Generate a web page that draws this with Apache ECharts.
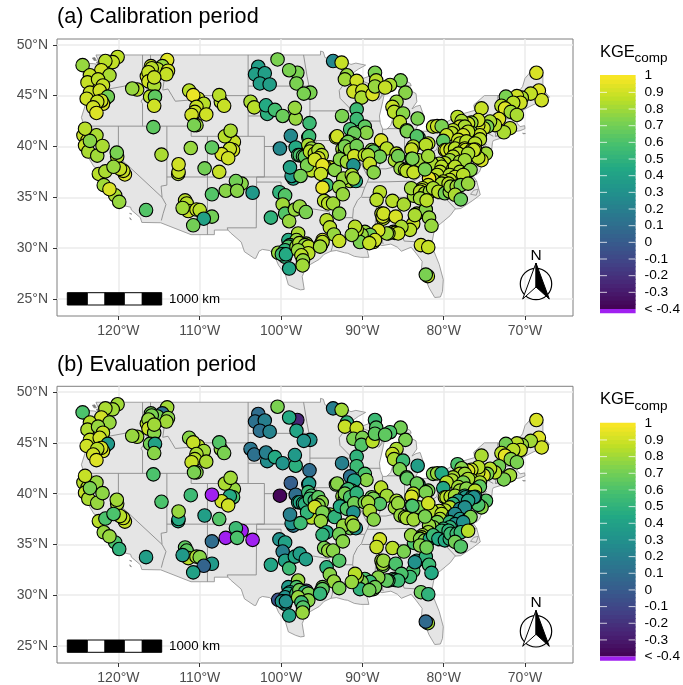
<!DOCTYPE html>
<html><head><meta charset="utf-8">
<style>html,body{margin:0;padding:0;background:#fff}#c{width:683px;height:685px}</style>
<script src="https://cdn.jsdelivr.net/npm/echarts@6/dist/echarts.min.js"></script>
</head><body><div id="c"></div>
<script>
// ---- tick labels / titles
const lonTicks=[-120,-110,-100,-90,-80,-70];
const latTicks=[25,30,35,40,45,50];
const kgeTicks=[-0.4,-0.3,-0.2,-0.1,0,0.1,0.2,0.3,0.4,0.5,0.6,0.7,0.8,0.9,1];
const panelTitles=['(a) Calibration period','(b) Evaluation period'];
const viridisStops=['#440154','#482475','#414487','#355f8d','#2a788e','#21918c','#22a884','#44bf70','#7ad151','#bddf26','#fde725'];

// ---- stations: [lon, lat, KGE calibration, KGE evaluation]
const northwestStations=[
[-124.4,48,.78,.6],[-120.1,48.8,.86,.8],[-120.7,48.3,.87,.8],[-121.6,48.4,.85,.82],[-122.1,47.5,.9,.9],[-123.5,47,.87,.85],[-121.1,47,.82,.78],[-123.8,46.3,.88,.83],[-122.5,46.6,.86,.78],[-121.9,46,.88,.87],[-122.2,45.2,.9,.9],[-122.4,44.9,.92,.85],[-121.7,44.6,.9,.92],[-123.5,45.3,.88,.88],[-122.3,45.5,.9,.9],[-121.3,44.9,.7,.35],[-121.9,44.2,.92,.92],[-122.1,44.5,.9,.92],[-123.9,44.7,.9,.9],[-122.6,44.4,.88,.85],[-123.1,43.85,.9,.9],[-122.7,43.3,.93,.93],
[-114,48.5,.93,.8],[-114.6,47.9,.78,.12],[-116,47.9,.88,.7],[-115.2,47.6,.85,.7],[-116.5,46.9,.9,.85],[-113.9,47.45,.9,.75],[-114.1,47.1,.88,.8],[-115.9,47.7,.85,.72],[-116.3,47.3,.88,.78],[-116.3,46.4,.9,.88],[-115.6,46,.82,.75],[-115.6,46.8,.88,.8],[-116.1,44.9,.85,.7],[-115.5,44.9,.65,.4],[-115.6,44,.9,.75],[-115.7,41.9,.65,.6],[-117.7,45.6,.85,.8],[-118.3,45.7,.78,.78]];
const rockiesStations=[
[-110.2,44.7,.88,.85],[-111.3,45.5,.85,.75],[-110.8,45.05,.96,.88],[-109.5,44.2,.85,.8],[-110.4,43.9,.88,.82],[-110.6,43.4,.88,.85],[-109.2,43.15,.9,.82],[-111,43.1,.9,.88],[-110.4,42.1,.8,.75],[-110.7,42.1,.72,.72],[-107.4,44.4,.85,.78],[-107.6,45.05,.85,.62],[-107,44,.88,.72],
[-105.8,40.45,.88,.78],[-106.9,41,.85,.82],[-106.2,41.55,.82,.8],[-105.9,39.65,.9,.6],[-106.3,39.75,.88,.45],[-107.3,39.25,.92,.9],[-106.5,38.85,.9,.9],[-108.5,39.9,.65,-.45],[-111.1,39.85,.78,.55],[-114.7,39.2,.82,.6],[-112.65,37.3,.82,.45],[-112.6,37.5,.88,.45],[-112.6,38.25,.9,.78],[-109.4,37.85,.7,.38],[-107.6,37.5,.88,.62]];
const southwestStations=[
[-104.85,36.35,.75,-.45],[-105.55,36.6,.7,.55],[-106.8,35.65,.75,-.45],[-105.4,35.65,.75,.6],[-108.5,35.3,.62,.1],[-103.5,35.45,.35,-.45],
[-111.8,34.7,.85,.65],[-111.6,34.4,.85,.65],[-111.4,33.65,.88,.85],[-110.4,33.8,.88,.82],[-110,33.75,.85,.75],[-112.1,33.95,.8,.35],[-108.5,33.1,.7,.35],[-109.5,32.9,.4,.05],[-110.8,32.25,.7,.4],
[-124.3,41.1,.88,.85],[-123.8,40.6,.9,.85],[-124.1,40.1,.88,.87],[-123.7,39.5,.82,.82],[-122.7,41.1,.82,.78],[-122.6,39.1,.8,.78],[-121.95,40.05,.82,.76],[-123.5,40.55,.75,.72],[-124.1,41.75,.85,.88],
[-120.15,39,.85,.82],[-120.2,39.4,.72,.8],[-122.4,37.3,.85,.85],[-121.6,37.55,.82,.6],[-119.2,37.25,.92,.88],[-119.4,37.6,.88,.88],[-119.8,37.8,.88,.85],[-120.6,38,.78,.6],[-121.8,36.2,.8,.78],[-120.4,35.2,.82,.6],[-121.1,35.8,.92,.78],[-119.9,34.55,.78,.5],[-116.6,33.75,.62,.38]];
const plainsStations=[
[-100.43,48.56,.72,.72],[-102.8,47.84,.38,.1],[-103.2,47.1,.38,.12],[-102,47.2,.38,.2],[-102.6,46.2,.38,.12],[-101.4,46.1,.38,.22],[-98,47.25,.72,-.25],[-99,47.5,.72,.45],[-98.1,46.2,.72,.42],[-96.4,45.3,.72,.32],[-97.2,45.2,.72,.32],
[-103.75,44.4,.82,.15],[-103.3,43.85,.85,.12],[-101.7,43.2,.48,.28],[-101.85,44.05,.45,.2],[-100.75,43.6,.58,.45],[-99.8,43,.68,.32],[-98.2,42.75,.78,.48],[-98.3,43.8,.78,.35],[-96.5,42.3,.55,.1],[-96.65,40.9,.5,.3],[-96.55,41,.55,.35],[-98.8,41.05,.25,.02],[-100.14,39.8,.25,-.38],[-98.2,39.9,.45,.1],[-97.9,39.15,.6,.45],[-97.7,39.15,.6,.42],[-97.3,39.05,.65,.45],[-97.07,39,.65,.48],[-96.65,40.15,.82,.55],[-96.25,39.8,.78,.6],[-96.45,39.5,.85,.55],[-95.85,39.3,.85,.55],[-95.4,39.65,.82,.65],[-95,39.15,.85,.75],[-95.4,38.85,.9,.75],[-96.25,37.65,.85,.85],[-96.8,38.15,.72,.52],[-95.85,38.7,.9,.9],[-94,37.95,.92,.8],[-94.6,38,.92,.78],[-94.9,38.15,.95,.72],[-93.4,37.7,.75,.5],[-95.1,37.3,.88,.78],
[-98.5,36.85,.4,.15],[-98.7,37.1,.35,.3],[-98.9,37.95,.4,.2],[-97.6,37.1,.7,.55],[-100.2,35.5,.5,.3],[-99.5,35.2,.62,.4],[-99.8,34.3,.8,.2],[-99.5,33.4,.62,.4],[-99,32.65,.78,.55],[-101.25,33,.5,.42],[-98.3,33.8,.78,.42],[-97.7,34.1,.78,.38],[-96.95,33.55,.72,.38],[-94.4,36.2,.55,.45],[-94.9,35.95,.95,.5]];
const texasStations=[
[-94.7,34.65,.85,.72],[-94.2,34.4,.85,.78],[-93.6,34.4,.8,.75],[-92.85,33.4,.75,.62],[-94.4,32.75,.85,.48],[-94,32.05,.85,.75],[-93.5,31.35,.78,.78],[-92.85,30.7,.88,.72],
[-96.9,30.45,.8,-.15],[-97.9,31.45,.82,.78],[-99.1,30.8,.45,.35],[-98.1,30.8,.78,.6],[-100.35,29.55,.78,-.05],[-98.9,30.3,.55,.35],[-99.1,30.15,.62,.42],[-99.5,29.8,.5,.3],[-99.7,29.4,.55,.35],[-99.5,29.15,.5,.35],[-99.9,29.4,.55,.35],[-99.4,29.4,.45,.3],[-98.1,30.15,.78,.55],[-97.75,30.5,.82,.7],[-97.05,30.3,.78,.5],[-97.3,29.65,.82,.6],[-96.65,30.15,.85,.72],[-97.9,29.8,.78,.78],[-96.65,29.5,.85,.75],[-97.5,29.3,.85,.55],[-97.3,28.8,.78,.62],[-97.35,28.3,.8,.78],[-99,28,.42,.4],[-94.9,30.8,.9,.72],[-95.1,30.3,.85,.7],[-95.1,30.4,.9,.7],[-94.9,30.6,.85,.65],[-95.2,30.15,.8,.52]];
const midwestStations=[
[-93.6,48.4,.25,.2],[-92.55,48.25,.88,.8],[-91.9,47,.78,.5],[-92.15,46.6,.8,.88],[-90.7,46.45,.9,.88],[-88.45,47.25,.72,.55],[-88.3,46.5,.85,.62],[-85.3,46.5,.72,.7],[-91.1,45.4,.9,.72],[-90,45.5,.88,.72],[-90.1,44.8,.82,.62],[-88.75,45.15,.92,.85],[-88.45,45.9,.78,.65],[-86.6,46.05,.82,.6],[-87.2,45.8,.88,.65],[-84.7,45.3,.75,.72],[-85.8,44.4,.78,.82],[-86.3,43.9,.88,.88],[-86.1,43.4,.85,.82],[-85,43.25,.75,.55],[-85.4,42.4,.85,.72],[-84.55,41.6,.72,.68],[-84.5,41.5,.72,.65],[-83.2,42.75,.72,.38],[-83.1,40.9,.55,.45],[-83.3,41,.62,.68],
[-90.7,43.65,.55,.5],[-92.5,43,.72,.2],[-90.7,42.7,.55,.55],[-89.7,41.95,.65,.6],[-89.5,41.35,.75,.75],[-91.5,41.7,.58,.12],[-91,41.3,.68,.42],[-93.25,40.9,.85,.68],[-93.1,41,.9,.75],[-91.95,40.3,.75,.6],[-91.3,40.3,.78,.65],[-91.75,40.45,.7,.55],[-92.45,39.75,.82,.78],[-92.15,39.5,.78,.75],[-92.15,40,.72,.72],[-91.5,39.15,.85,.6],[-91.05,39.65,.75,.62],[-91.5,39.65,.78,.6],[-90.7,40.05,.7,.5],[-92.75,38.75,.75,.45],[-91.9,38.5,.8,.62],[-91,39.05,.9,.7],[-91.1,38.15,.3,.3],[-91.5,36.6,.82,.7],[-90.8,36.6,.45,.3],[-92.35,36.85,.78,.78],[-91.3,37.2,.82,.82],[-91.1,36.85,.8,.78],[-92.85,36,.78,.7],[-92.4,35.3,.78,.75],
[-87.7,40.6,.92,.85],[-87,39.8,.85,.8],[-88.85,39.65,.75,.7],[-89.7,39.15,.85,.72],[-88.65,39.5,.65,.72],[-87.85,39,.7,.62],[-89.3,39.15,.82,.8],[-89.1,38.3,.88,.82],[-88.6,37.45,.75,.75],[-85.8,39.3,.85,.82],[-86,38.65,.82,.8],[-85.6,39.05,.7,.78],[-83.75,40,.85,.85],[-83.95,39.7,.88,.92],[-83.1,38.65,.8,.72],[-83.95,38.8,.72,.62],[-85.3,37.85,.78,.78],[-84.75,37.7,.85,.8],[-84.55,37.6,.85,.82],[-83.7,37.45,.88,.8]];
const southStations=[
[-87.85,35.5,.85,.9],[-88.25,34.75,.85,.88],[-86.3,34.65,.85,.85],[-84.9,34.3,.82,.72],[-83.65,35.15,.8,.6],[-84,35.9,.8,.78],[-87.65,33.4,.85,.8],[-87.45,32.9,.85,.7],[-87.5,33.1,.9,.8],[-87.4,33.4,.9,.78],[-85.9,33.1,.92,.6],[-83.5,33.25,.78,.42],[-83.3,33.4,.8,.4],[-83.75,32.4,.88,.6],[-84.15,31.8,.85,.55],[-85.2,32.1,.82,.6],[-86.2,31.6,.85,.6],[-86,31.5,.85,.55],[-85.6,31.45,.88,.55],[-86.8,31.45,.82,.6],[-87,31.45,.8,.65],[-88.05,31.75,.92,.75],[-89.5,31.45,.75,.6],[-89.7,31.6,.78,.6],[-89.05,31.3,.7,.55],[-90.1,31.3,.78,.72],[-90.3,30.6,.72,.5],[-88.65,30.6,.9,.72],[-88.45,30.8,.9,.7],[-89.15,30.5,.88,.7],[-90.7,31.8,.85,.8],[-90.9,32.1,.85,.85],[-91.3,31.3,.78,.78],[-82.8,30.3,.9,.68],[-81.9,30.1,.88,.5],[-81.95,27.25,.85,.8],[-82.2,27.4,.72,.08],[-82.2,33.8,.75,.5],[-81.8,33,.78,.55],[-81.5,32.2,.78,.45],[-83.55,33.25,.82,.3]];
const northeastStations=[
[-68.6,47.25,.92,.92],[-68.3,45.5,.93,.93],[-67.95,44.55,.9,.9],[-69.3,45.2,.87,.8],[-70.4,44.8,.82,.78],[-71,44.95,.9,.85],[-70.55,44.3,.9,.88],[-72.35,44.9,.72,.7],[-71.45,44.3,.85,.85],[-72.9,44,.85,.85],[-72.45,43.75,.93,.95],[-71.75,43.4,.8,.75],[-71,43.1,.82,.72],[-73.2,42.7,.92,.7],[-71.85,41.8,.85,.8],[-72.6,41.4,.82,.72],[-73.7,42.1,.85,.85],[-75.35,43.75,.88,.82],[-74.3,42.45,.82,.85],[-74.65,41.95,.72,.72],[-75.1,41.8,.88,.92],[-75.75,42.1,.9,.88],[-75.75,42.6,.88,.85],[-76.6,42.35,.78,.88],[-77,42.25,.88,.92],[-76.6,41.35,.75,.85],[-75.55,41.1,.88,.82],[-75.55,40.7,.85,.65],[-74.8,39.3,.8,.62],[-75.35,38.65,.92,.75],[-75.75,38.9,.85,.6],[-78.3,42.9,.85,.6],[-77.8,42.5,.82,.75],[-78,41.95,.9,.85],[-77.4,41.95,.82,.8],[-78.85,41.6,.85,.82],[-79,41.3,.85,.82],[-81.3,41.95,.85,.72],[-80.8,42,.88,.78],[-80.25,42,.72,.45],[-79.65,41.1,.88,.85],[-77.2,41.3,.9,.88],[-77,41.45,.85,.82],[-77.6,41.1,.9,.72]];
const appalachianStations=[
[-80.05,40.55,.65,.42],[-78.2,40.65,.88,.8],[-78,40.3,.85,.8],[-77.2,40.5,.85,.75],[-76.15,40.3,.85,.85],[-79.85,39.65,.92,.85],[-79.65,39.65,.9,.85],[-79.15,39.7,.88,.85],[-78.6,39.8,.85,.8],[-77.4,39.8,.9,.45],[-77.3,39.65,.88,.35],[-76.55,39.65,.9,.4],[-76.15,39.7,.92,.35],[-76.3,39.65,.88,.3],[-78.2,39.3,.85,.35],[-77,39.3,.82,.4],[-78.85,39,.85,.5],[-79.25,38.65,.8,.85],[-79.85,38.35,.85,.85],[-78,38.5,.8,.25],[-77.4,38.65,.8,.28],[-80.55,38.3,.82,.85],[-81.5,38.35,.82,.85],[-80.25,38,.85,.85],[-78.8,37.85,.85,.3],[-78.6,38,.85,.25],[-78,37.5,.82,.35],[-77.2,37.35,.85,.65],[-76.7,37.7,.75,.72],[-80.45,37.5,.85,.82],[-80.8,37.2,.85,.72],[-79.25,37.2,.82,.5],[-78.6,37,.88,.3],[-77.6,37.2,.85,.3],[-79.25,36.7,.85,.5],[-80.05,36.55,.85,.5],[-80.75,36.4,.88,.7],[-81.3,36.7,.85,.75],[-81.8,36.85,.95,.78],[-81.9,36.2,.88,.8],[-80.25,36.35,.82,.55],[-79.4,36.35,.85,.5],[-82.6,35.9,.85,.8],[-82.7,35.7,.88,.85],[-82.9,35.55,.85,.75],[-82.3,35.4,.82,.75],[-81.7,35.55,.8,.45],[-81.3,35.9,.82,.55],[-80.65,35.55,.85,.45],[-79.85,35.4,.7,.45],[-79.25,35.55,.78,.5],[-79.15,36.05,.8,.55],[-78.4,36.05,.8,.55],[-77.9,36.2,.72,.55],[-77,36.35,.78,.85],[-78.6,35.25,.82,.7],[-77.9,34.8,.68,.62],[-82.9,34.9,.8,.75],[-82.1,34.7,.85,.7],[-81.9,40.3,.85,.72],[-82.2,40.15,.85,.72],[-81.9,39.05,.8,.9],[-83.85,38.8,.72,.6],[-82.3,37.75,.72,.72]];
const stations=[...northwestStations,...rockiesStations,...southwestStations,...plainsStations,...texasStations,...midwestStations,...southStations,...northeastStations,...appalachianStations];

// ---- map geometry (lon, lat)
const usOutline=[[-124.7,48.4],[-123.9,48.17],[-123.1,48.15],[-122.75,48.1],[-122.45,47.3],[-122.3,47.9],[-122.5,48.5],[-122.76,49],[-95.15,49],[-95.15,49.38],[-94.8,49.3],[-94.6,48.75],[-93.8,48.55],[-92.95,48.62],[-92,48.3],[-91.4,48.07],[-90.8,48.2],[-89.6,48],[-90.5,47.6],[-92,46.75],[-91,46.9],[-90.4,46.55],[-89,46.95],[-88.4,47.35],[-87.9,47.47],[-88.4,46.95],[-87.4,46.5],[-86.5,46.5],[-85,46.75],[-84.6,46.45],[-84.1,46.2],[-84,45.95],[-84.8,45.95],[-85.5,46.1],[-86.4,45.8],[-87,45.7],[-87.6,45.1],[-88,44.55],[-87.3,45.2],[-87.5,44.4],[-87.9,43],[-87.8,42.3],[-87.5,41.7],[-87,41.7],[-86.5,42.1],[-86.2,43],[-86.5,43.7],[-86.2,44.7],[-85.6,45],[-85,45.7],[-84.7,45.78],[-83.4,45.2],[-83.3,44.4],[-83.9,43.7],[-83.4,43.95],[-82.9,44.05],[-82.45,43],[-82.5,42.6],[-83.1,42.2],[-83.4,41.75],[-82.7,41.5],[-81.7,41.5],[-80.5,42],[-79,42.7],[-78.9,43],[-79.05,43.27],[-77.5,43.25],[-76.2,43.55],[-76.3,44.1],[-75,45],[-71.5,45],[-71.4,45.25],[-70.85,45.3],[-70.3,45.9],[-70,46.7],[-69.2,47.45],[-68.3,47.35],[-67.8,47.07],[-67.8,45.7],[-67.45,45.3],[-67,44.85],[-68,44.4],[-69,44.1],[-70.2,43.6],[-70.7,43.05],[-70.8,42.6],[-71,42.3],[-70.6,41.95],[-70.05,42.05],[-70,41.75],[-70.6,41.55],[-71.4,41.45],[-72.9,41.25],[-73.65,41],[-72,41.05],[-73.9,40.58],[-74,40.4],[-74.1,39.7],[-74.9,38.95],[-75.5,39.5],[-75.1,38.6],[-75.6,37.5],[-76,37.2],[-75.9,38.2],[-76.5,39.2],[-76.4,38.2],[-76.3,37],[-75.95,36.6],[-75.5,35.25],[-76.5,34.65],[-77.9,33.9],[-78.6,33.85],[-79.2,33.2],[-80.4,32.4],[-81.1,32],[-81.4,30.7],[-81.25,29.8],[-80.55,28.4],[-80.05,26.9],[-80.15,25.75],[-80.4,25.2],[-81.1,25.15],[-81.8,26.1],[-82.2,26.9],[-82.75,27.8],[-82.65,28.7],[-83.4,29.5],[-84,30.1],[-85.2,29.7],[-85.7,30.1],[-86.5,30.4],[-87.6,30.25],[-88,30.4],[-88.9,30.4],[-89.6,30.2],[-89.4,29.8],[-89.2,29.1],[-90.2,29.1],[-91,29.2],[-91.8,29.5],[-92.2,29.55],[-93.2,29.77],[-93.85,29.7],[-94.7,29.4],[-95.3,28.9],[-96.4,28.4],[-97.1,27.8],[-97.4,27.2],[-97.15,25.95],[-97.6,25.9],[-98.2,26.05],[-99.1,26.4],[-99.5,27.5],[-100.3,28.3],[-100.8,29.25],[-101.4,29.77],[-102.3,29.88],[-102.7,29.7],[-103.1,29],[-103.3,29],[-104.5,29.65],[-104.9,30.6],[-106.2,31.5],[-106.53,31.78],[-108.2,31.78],[-108.2,31.33],[-111.07,31.33],[-114.8,32.5],[-117.12,32.53],[-117.3,33],[-118.4,33.75],[-118.5,34.03],[-119.2,34.15],[-120.5,34.45],[-120.65,35.15],[-121.9,36.6],[-122,36.95],[-122.5,37.5],[-122.5,37.8],[-123,38],[-123.75,39],[-123.8,39.8],[-124.35,40.3],[-124.1,41],[-124.2,42],[-124.55,42.85],[-124.1,44],[-123.95,46.2],[-124.1,46.8],[-124.7,48.4]];
const stateLines=[
[[-124,46.25],[-123.2,46.15],[-122.8,45.65],[-121.2,45.65],[-119.3,45.93],[-119,46],[-116.92,46]],
[[-117.03,49],[-117.04,46.4],[-116.92,46],[-116.46,45.6],[-116.85,44.9],[-117.2,44.45],[-117.03,44.2],[-117.03,42]],
[[-124.2,42],[-111.05,42]],
[[-120,42],[-120,39],[-114.63,35],[-114.15,34.3],[-114.5,33.4],[-114.72,32.72]],
[[-114.04,42],[-114.04,36.2],[-114.75,36.1],[-114.63,35]],
[[-116.05,49],[-116.05,48],[-114.7,46.7],[-114.35,46.65],[-114.55,45.55],[-113.9,45.65],[-113.45,45.05],[-113,44.45],[-111.5,44.55],[-111.05,44.48]],
[[-111.05,45],[-111.05,41],[-104.05,41]],
[[-111.05,45],[-104.05,45]],
[[-104.05,49],[-104.05,41]],
[[-114.04,37],[-102.05,37]],
[[-109.05,41],[-109.05,31.33]],
[[-104.05,41],[-102.05,41],[-102.05,37]],
[[-103,37],[-103.05,32],[-106.62,32],[-106.53,31.78]],
[[-103,36.5],[-100,36.5],[-100,34.56],[-99.2,34.3],[-98.1,34.13],[-97.2,33.8],[-96,33.85],[-94.5,33.65],[-94.04,33.55],[-94.04,31.99],[-93.55,31.2],[-93.7,30.1],[-93.85,29.7]],
[[-103,37],[-94.62,37],[-94.43,35.4],[-94.5,33.65]],
[[-102.05,40],[-95.3,40],[-94.62,39.1],[-94.62,36.5]],
[[-104.05,43],[-98.5,43],[-97.9,42.8],[-96.45,42.5],[-96.1,41.7],[-95.85,40.7],[-95.3,40]],
[[-104.05,45.94],[-96.56,45.94],[-96.45,45.3],[-96.45,42.5]],
[[-97.23,49],[-96.8,46.9],[-96.56,45.94]],
[[-96.45,43.5],[-91.22,43.5]],
[[-92,46.7],[-92.3,46.1],[-92.85,45.5],[-92.75,44.75],[-91.22,43.5],[-91.1,42.7],[-90.64,42.5],[-90.15,41.8],[-91.1,41.2],[-91,40.7],[-91.4,40.4],[-91.5,40],[-90.7,39],[-90.15,38.8],[-90.2,38.4],[-89.5,37.3],[-89.15,37],[-89.4,36.5],[-89.7,36],[-90.1,35.1],[-90.6,34.7],[-91.1,33.9],[-91.2,33],[-90.9,32.3],[-91.6,31],[-89.75,31],[-89.8,30.6],[-89.6,30.2]],
[[-95.77,40.58],[-91.7,40.6],[-91.4,40.4]],
[[-90.64,42.5],[-87.8,42.5]],
[[-90.4,46.55],[-89.1,46.15],[-88.1,45.9],[-87.8,45.35],[-87.6,45.1]],
[[-87.53,41.7],[-87.53,39.35],[-87.6,38.7],[-88.05,37.8]],
[[-89.15,37],[-88.45,37.1],[-88.05,37.8],[-87.1,37.8],[-86,38],[-85.4,38.7],[-84.82,39.1],[-84.2,38.8],[-83,38.7],[-82.6,38.4],[-81.75,39.2],[-80.87,39.7],[-80.52,40.64]],
[[-84.82,39.1],[-84.8,41.76]],
[[-87,41.76],[-83.45,41.73]],
[[-80.52,39.72],[-80.52,42]],
[[-79.76,42.27],[-79.76,42],[-75.35,42],[-75.07,41.6],[-74.7,41.36],[-75.1,40.9],[-75.2,40.6],[-74.75,40.2],[-75.45,39.8]],
[[-80.52,39.72],[-75.79,39.72],[-75.45,39.8]],
[[-75.79,39.72],[-75.7,38.46],[-75.05,38.45]],
[[-74.7,41.36],[-73.9,41]],
[[-73.65,41],[-73.5,42.05],[-73.27,42.75],[-73.35,45]],
[[-73.5,42.05],[-71.38,42.02],[-71.12,41.5]],
[[-73.27,42.75],[-71.3,42.7],[-70.82,42.87]],
[[-71.8,42.02],[-71.85,41.32]],
[[-72.46,42.73],[-72.3,43.6],[-72.05,44.1],[-71.5,45]],
[[-71.08,45.3],[-70.98,43.4],[-70.7,43.05]],
[[-79.48,39.72],[-79.48,39.2],[-78.4,39.6],[-77.7,39.3],[-77.1,38.9],[-77.25,38.35],[-76.3,38]],
[[-81.97,37.54],[-81.7,37.2],[-80.3,37.5],[-79.9,38.2],[-78.9,38.8],[-78.35,39.4],[-77.8,39.15]],
[[-82.6,38.4],[-81.97,37.54],[-83.67,36.6]],
[[-75.9,36.55],[-81.68,36.59]],
[[-83.67,36.6],[-88.05,36.5],[-89.4,36.5]],
[[-81.68,36.59],[-82,36.1],[-83.1,35.75],[-84.3,35]],
[[-90.1,35],[-83.1,35],[-82.3,35.2],[-81,35.15],[-80.8,34.82],[-79.67,34.8],[-78.55,33.86]],
[[-83.1,35],[-83.35,34.7],[-81.9,33.4],[-81.4,33],[-81.1,32.1]],
[[-85.6,34.98],[-85.18,32.87],[-85,32.3],[-85,31]],
[[-87.45,30.4],[-87.6,31],[-85,31],[-84.86,30.7],[-82.2,30.57],[-82.05,30.35],[-82,30.75],[-81.45,30.72]],
[[-88.2,35],[-88.47,31.9],[-88.4,30.3]],
[[-94.62,36.5],[-90.15,36.5],[-90.4,36],[-89.7,36]],
[[-94.04,33],[-91.2,33]]];
const smallIslands=[
[[-120.4,34],[-119.9,34.05],[-119.6,34],[-119.9,33.95],[-120.4,34]],
[[-118.6,33.45],[-118.35,33.35],[-118.6,33.4],[-118.6,33.45]],
[[-118.6,33],[-118.4,32.8],[-118.55,32.85],[-118.6,33]],
[[-123.2,48.7],[-122.9,48.75],[-122.7,48.45],[-123,48.45],[-123.2,48.7]],
[[-122.7,48.3],[-122.45,48.35],[-122.5,47.95],[-122.7,48.3]],
[[-70.3,41.3],[-69.95,41.27],[-70.2,41.25],[-70.3,41.3]],
[[-76.7,35.3],[-76,35.2],[-75.75,35.8],[-76.3,35.7],[-76.7,35.3]]];

// ---- helpers
const F='"Liberation Sans",Arial,sans-serif';
function viridis(v){
  if(v<-0.4) return '#a020f0';
  const t=Math.min(1,(v+0.4)/1.4)*(viridisStops.length-1),i=Math.min(viridisStops.length-2,Math.floor(t)),f=t-i;
  const h=s=>[1,3,5].map(k=>parseInt(s.substr(k,2),16));
  const a=h(viridisStops[i]),b=h(viridisStops[i+1]);
  return 'rgb('+a.map((x,k)=>Math.round(x+(b[k]-x)*f)).join(',')+')';
}
const plotLeft=57,plotRight=110,plotH=277,panelTops=[39,386.3];
const barTops=[75.7,423.3],barH=233.3,barLeft=600,barW=36;
const grids=[],xAxes=[],yAxes=[],series=[],gfx=[];

[0,1].forEach(p=>{
  const dy=panelTops[p]-panelTops[0];
  const m=2*p,g=2*p+1;
  grids.push({left:plotLeft,right:plotRight,top:panelTops[p],height:plotH,show:true,borderColor:'#7f7f7f',borderWidth:1,backgroundColor:'#fff',containLabel:false});
  xAxes.push({gridIndex:m,type:'value',min:-127.55,max:-64.1,axisLine:{show:false},
    axisTick:{length:4,lineStyle:{color:'#333',width:1},customValues:lonTicks},
    axisLabel:{customValues:lonTicks,formatter:v=>Math.abs(v)+'°W',fontFamily:F,fontSize:14,color:'#4d4d4d',margin:8},
    splitLine:{show:true,lineStyle:{color:'#ebebeb',width:1.5}}});
  yAxes.push({gridIndex:m,type:'value',min:23.33,max:50.57,axisLine:{show:false},
    axisTick:{length:4,lineStyle:{color:'#333',width:1},customValues:latTicks},
    axisLabel:{customValues:latTicks,formatter:v=>v+'°N',fontFamily:F,fontSize:14,color:'#4d4d4d',margin:9},
    splitLine:{show:true,lineStyle:{color:'#ebebeb',width:1.5}}});
  const polys=[usOutline,...smallIslands,...stateLines];
  const closedCount=1+smallIslands.length;
  series.push({type:'custom',xAxisIndex:m,yAxisIndex:m,silent:true,z:2,coordinateSystem:'cartesian2d',
    data:polys.map((_,i)=>[i]),
    renderItem:(params,api)=>{
      const i=api.value(0),pts=polys[i].map(c=>api.coord(c));
      return i<closedCount
        ?{type:'polygon',shape:{points:pts},style:{fill:(i>=4&&i<=5)?'#777':'#e5e5e5',stroke:'#8a8a8a',lineWidth:0.8}}
        :{type:'polyline',shape:{points:pts},style:{fill:null,stroke:'#8a8a8a',lineWidth:0.9}};
    }});
  series.push({type:'scatter',xAxisIndex:m,yAxisIndex:m,silent:true,z:3,symbolSize:13.5,
    data:stations.map(s=>[s[0],s[1],s[2+p]]),
    itemStyle:{color:o=>viridis(o.value[2]),borderColor:'#000',borderWidth:1.1,opacity:1}});

  // colour bar
  grids.push({left:barLeft,width:barW,top:barTops[p],height:barH,show:false});
  xAxes.push({gridIndex:g,type:'value',min:0,max:1,show:false});
  yAxes.push({gridIndex:g,type:'value',min:-0.4,max:1,interval:0.1,position:'right',
    axisLine:{show:false},axisTick:{show:false},splitLine:{show:false},
    axisLabel:{fontFamily:F,fontSize:13.7,color:'#000',margin:9,
      formatter:v=>{const r=+v.toFixed(1);return r===-0.4?'< -0.4':String(r);}}});
  const steps=[];
  for(let i=0;i<56;i++) steps.push([-0.4+i*0.025,-0.4+(i+1)*0.025]);
  series.push({type:'custom',xAxisIndex:g,yAxisIndex:g,silent:true,clip:false,z:2,
    data:steps,
    renderItem:(params,api)=>{
      const a=api.value(0),b=api.value(1);
      const p0=api.coord([0,b+(b>=0.999?0.004:0.006)]),p1=api.coord([1,a]);
      return {type:'rect',shape:{x:p0[0],y:p0[1],width:p1[0]-p0[0],height:p1[1]-p0[1]},style:{fill:viridis((a+b)/2)}};
    }});
  series.push({type:'custom',xAxisIndex:g,yAxisIndex:g,silent:true,clip:false,z:2,
    data:[[-0.425,-0.4]],
    renderItem:(params,api)=>{
      const p0=api.coord([0,-0.4]),p1=api.coord([1,-0.425]);
      return {type:'rect',shape:{x:p0[0],y:p0[1],width:p1[0]-p0[0],height:p1[1]-p0[1]},style:{fill:'#a020f0'}};
    }});
  series.push({type:'custom',xAxisIndex:g,yAxisIndex:g,silent:true,clip:false,z:3,
    data:kgeTicks.slice(1,-1).map(v=>[v]),
    renderItem:(params,api)=>{
      const v=api.value(0),a=api.coord([0,v]),b=api.coord([1,v]);
      const st={stroke:'rgba(255,255,255,0.75)',lineWidth:1};
      return {type:'group',children:[
        {type:'line',shape:{x1:a[0],y1:a[1],x2:a[0]+7,y2:a[1]},style:st},
        {type:'line',shape:{x1:b[0]-7,y1:b[1],x2:b[0],y2:b[1]},style:st}]};
    }});

  // title, legend title
  const T=(x,y,text,size,extra)=>({type:'text',x,y,z:50,style:Object.assign({text,fontFamily:F,fontSize:size,fill:'#000',verticalAlign:'middle'},extra||{})});
  gfx.push(T(57,17.5+dy,panelTitles[p],21.6));
  gfx.push(T(600,52+dy,'KGE',16.5));
  gfx.push(T(634.5,58.5+dy,'comp',13.5));
  // scale bar
  const xs=[67.3,87.3,105,124.3,142.3,161.7];
  for(let i=0;i<5;i++) gfx.push({type:'rect',z:50,shape:{x:xs[i],y:292.7+dy,width:xs[i+1]-xs[i],height:12.3},style:{fill:i%2?'#fff':'#000',stroke:'#000',lineWidth:1}});
  gfx.push(T(169,299+dy,'1000 km',13.3));
  // north arrow
  gfx.push({type:'circle',z:50,shape:{cx:536,cy:284+dy,r:15.7},style:{fill:null,stroke:'#000',lineWidth:1.2}});
  gfx.push({type:'polygon',z:50,shape:{points:[[536,263+dy],[522.7,299+dy],[536,287+dy]]},style:{fill:'#fff',stroke:'#000',lineWidth:1}});
  gfx.push({type:'polygon',z:51,shape:{points:[[536,263+dy],[549.3,299+dy],[536,287+dy]]},style:{fill:'#000',stroke:'#000',lineWidth:1}});
  gfx.push(T(536,255.5+dy,'N',15.5,{align:'center'}));
});

const chart=echarts.init(document.getElementById('c'),null,{renderer:'canvas'});
chart.setOption({animation:false,backgroundColor:'#fff',grid:grids,xAxis:xAxes,yAxis:yAxes,series,graphic:{elements:gfx}});
</script></body></html>
